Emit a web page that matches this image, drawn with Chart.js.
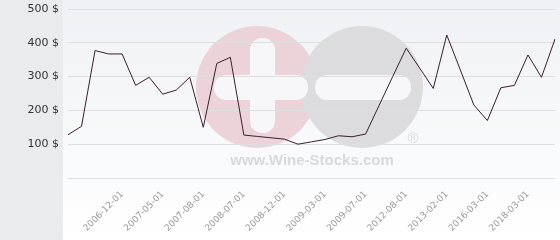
<!DOCTYPE html>
<html>
<head>
<meta charset="utf-8">
<script src="https://cdn.jsdelivr.net/npm/chart.js@4/dist/chart.umd.min.js"></script>
<style>
html,body{margin:0;padding:0;background:#fff;}
#wrap{width:560px;height:240px;}
</style>
</head>
<body>
<div id="wrap"><canvas id="c" width="560" height="240"></canvas></div>
<script>
// Category labels (only every third is shown in the original; others unknown)
const categories = ['', '', '', '', '2006-12-01', '', '', '2007-05-01', '', '', '2007-08-01', '', '', '2008-07-01', '', '', '2008-12-01', '', '', '2009-03-01', '', '', '2009-07-01', '', '', '2012-08-01', '', '', '2013-02-01', '', '', '2016-03-01', '', '', '2018-03-01', '', ''];
// Price series (USD)
const prices = [128, 153, 377, 367, 367, 274, 298, 248, 260, 298, 150, 339, 357, 127, 123, 119, 115, 100, 107, 114, 125, 122, 130, 215, 300, 384, 325, 265, 423, 320, 216, 170, 267, 274, 364, 298, 411];
const yTicks = [0, 100, 200, 300, 400, 500];
const currency = ' $';

const bgPlugin = {
  id: 'bg',
  beforeDraw(chart) {
    const ctx = chart.ctx;
    ctx.save();
    ctx.fillStyle = '#ffffff';
    ctx.fillRect(0, 0, 560, 240);
    ctx.fillStyle = '#e8ecef';
    ctx.fillRect(0, 0, 63, 240);
    const g = ctx.createLinearGradient(0, 0, 0, 240);
    g.addColorStop(0, '#eff1f6');
    g.addColorStop(1, '#ffffff');
    ctx.fillStyle = g;
    ctx.fillRect(63, 0, 497, 240);
    // watermark
    const rr = (x, y, w, h, r) => {
      ctx.beginPath();
      ctx.moveTo(x + r, y);
      ctx.arcTo(x + w, y, x + w, y + h, r);
      ctx.arcTo(x + w, y + h, x, y + h, r);
      ctx.arcTo(x, y + h, x, y, r);
      ctx.arcTo(x, y, x + w, y, r);
      ctx.closePath();
    };
    ctx.fillStyle = '#ecd3da';
    ctx.beginPath(); ctx.arc(257, 87, 61, 0, Math.PI * 2); ctx.fill();
    ctx.fillStyle = '#dcdcde';
    ctx.beginPath(); ctx.arc(362, 87, 61, 0, Math.PI * 2); ctx.fill();
    ctx.fillStyle = '#f7f7f9';
    rr(250, 38, 25, 95, 12); ctx.fill();
    rr(214, 75, 94, 25, 12); ctx.fill();
    rr(315, 75, 96, 25, 12); ctx.fill();
    ctx.fillStyle = '#d9d9d9';
    ctx.font = 'bold 15px "Liberation Sans", Arial, sans-serif';
    ctx.textAlign = 'center';
    ctx.textBaseline = 'middle';
    ctx.fillText('www.Wine-Stocks.com', 312, 161);
    ctx.font = '15px "Liberation Sans", Arial, sans-serif';
    ctx.fillText('\u00AE', 413, 139);
    ctx.restore();
  }
};

new Chart(document.getElementById('c'), {
  type: 'line',
  data: {
    labels: categories,
    datasets: [{
      data: prices,
      borderColor: '#3b1e2e',
      borderWidth: 1,
      pointRadius: 0,
      tension: 0,
      fill: false
    }]
  },
  options: {
    responsive: false,
    devicePixelRatio: 1,
    animation: false,
    layout: { padding: { top: 9, right: 5, left: 0, bottom: 0 } },
    plugins: { legend: { display: false }, tooltip: { enabled: false } },
    scales: {
      x: {
        offset: false,
        grid: { display: false },
        border: { display: false },
        afterFit(s) { s.height = 62; s.paddingLeft = 0; s.paddingRight = 0; },
        ticks: {
          autoSkip: false,
          maxRotation: 45,
          minRotation: 45,
          padding: 3,
          color: '#999999',
          font: { family: 'DejaVu Sans', size: 9 }
        }
      },
      y: {
        min: 0,
        max: 500,
        afterBuildTicks(s) { s.ticks = yTicks.map(v => ({ value: v })); },
        afterFit(s) { s.width = 68; s.paddingTop = 0; s.paddingBottom = 0; },
        border: { display: false },
        grid: { color: '#dedede', drawTicks: false, lineWidth: 1 },
        ticks: {
          padding: 9,
          color: '#333333',
          font: { family: 'DejaVu Sans', size: 11 },
          callback: v => v === 0 ? '' : v + currency
        }
      }
    }
  },
  plugins: [bgPlugin]
});
</script>
</body>
</html>
